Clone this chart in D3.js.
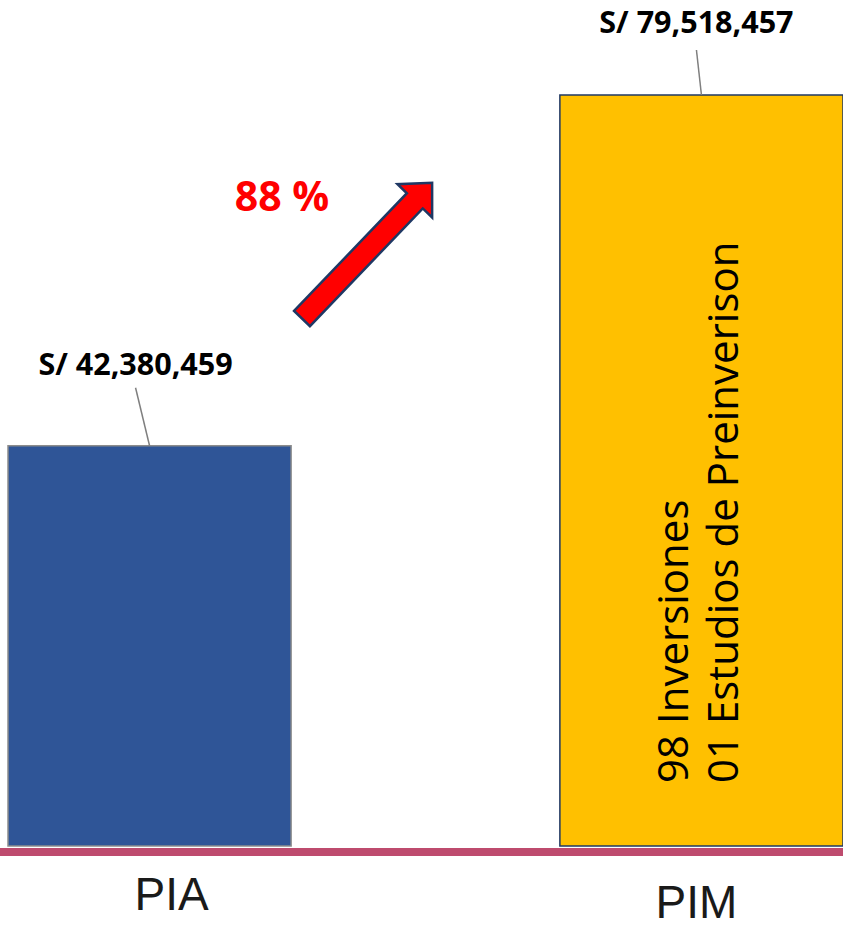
<!DOCTYPE html>
<html>
<head>
<meta charset="utf-8">
<script src="https://cdn.jsdelivr.net/npm/d3@7"></script>
<style>
  body { margin: 0; background: #fff; }
  svg { display: block; }
</style>
</head>
<body>
<div id="chart"></div>
<script>
var width = 843,
    height = 928;

// data
var categories = ["PIA", "PIM"];
var amounts = [42380459, 79518457];
var barColors = ["#2F5597", "#FFC000"];
var barStrokes = ["#8c8c8c", "#1F3864"];
var noteLines = ["98 Inversiones", "01 Estudios de Preinverison"];

var baseline = 846;

var svg = d3.select("#chart")
    .append("svg")
    .attr("width", width)
    .attr("height", height);

var x = d3.scaleBand()
    .domain(categories)
    .range([8, 843])
    .paddingInner(0.487)
    .paddingOuter(0);

var y = d3.scaleLinear()
    .domain([0, d3.max(amounts)])
    .range([baseline, 95]);

//bars
svg.selectAll(".bar")
    .data(categories)
    .enter()
    .append("rect")
    .attr("class", "bar")
    .attr("x", d => x(d))
    .attr("y", (d, i) => y(amounts[i]))
    .attr("width", x.bandwidth())
    .attr("height", (d, i) => baseline - y(amounts[i]))
    .attr("fill", (d, i) => barColors[i])
    .attr("stroke", (d, i) => barStrokes[i])
    .attr("stroke-width", 1.5);

// baseline axis
var xAxis = d3.axisBottom(x).tickSize(0).tickPadding(0);
var gx = svg.append("g")
    .attr("transform", "translate(0," + (baseline + 6) + ")")
    .call(xAxis);
gx.select(".domain").remove();
gx.append("line")
    .attr("x1", 0)
    .attr("x2", width)
    .attr("stroke", "#BE4B6E")
    .attr("stroke-width", 8);
var labelNudge = [[22, 58], [-5, 66]];
gx.selectAll(".tick text")
    .attr("font-family", "Liberation Sans, Arial, sans-serif")
    .attr("font-size", 46)
    .attr("fill", "#1a1a1a")
    .attr("dy", 0)
    .attr("x", (d, i) => labelNudge[i][0])
    .attr("y", (d, i) => labelNudge[i][1]);

// value labels with leader lines
var fmt = d3.format(",");
var lblShift = [[-14, -71], [-5, -62]];
var lineTop = [[-14, -58], [-5, -45]];
categories.forEach(function (c, i) {
    var cx = x(c) + x.bandwidth() / 2;
    var ty = y(amounts[i]);
    svg.append("line")
        .attr("x1", cx + lineTop[i][0])
        .attr("y1", ty + lineTop[i][1])
        .attr("x2", cx)
        .attr("y2", ty)
        .attr("stroke", "#7f7f7f")
        .attr("stroke-width", 1.5);
    svg.append("text")
        .attr("x", cx + lblShift[i][0])
        .attr("y", ty + lblShift[i][1])
        .attr("text-anchor", "middle")
        .attr("font-family", "Open Sans, sans-serif")
        .attr("font-weight", "bold")
        .attr("font-size", 30.5)
        .attr("fill", "#000")
        .text("S/ " + fmt(amounts[i]));
});

// growth label
var growth = amounts[1] / amounts[0] - 1;
svg.append("text")
    .attr("x", 282)
    .attr("y", 211)
    .attr("text-anchor", "middle")
    .attr("font-family", "Open Sans, sans-serif")
    .attr("font-weight", "bold")
    .attr("font-size", 41)
    .attr("fill", "#FF0000")
    .text(Math.round(growth * 100) + " %");

// arrow
var L = 188, sw = 11, hl = 25, hw = 24;
svg.append("path")
    .attr("transform", "translate(302,318.5) rotate(-46.2)")
    .attr("d", "M0," + (-sw) + "L" + (L - hl) + "," + (-sw) + "L" + (L - hl) + "," + (-hw) +
        "L" + L + ",0L" + (L - hl) + "," + hw + "L" + (L - hl) + "," + sw + "L0," + sw + "Z")
    .attr("fill", "#FF0000")
    .attr("stroke", "#1F3864")
    .attr("stroke-width", 2.5)
    .attr("stroke-linejoin", "miter");

// note inside PIM bar
var pimX = x("PIM") + x.bandwidth() / 2;
var noteOff = [-13, 37];
noteLines.forEach(function (t, i) {
    svg.append("text")
        .attr("transform", "translate(" + (pimX + noteOff[i]) + ",783) rotate(-90)")
        .attr("font-family", "Open Sans, sans-serif")
        .attr("font-size", 42)
        .attr("fill", "#000")
        .text(t);
});
</script>
</body>
</html>
